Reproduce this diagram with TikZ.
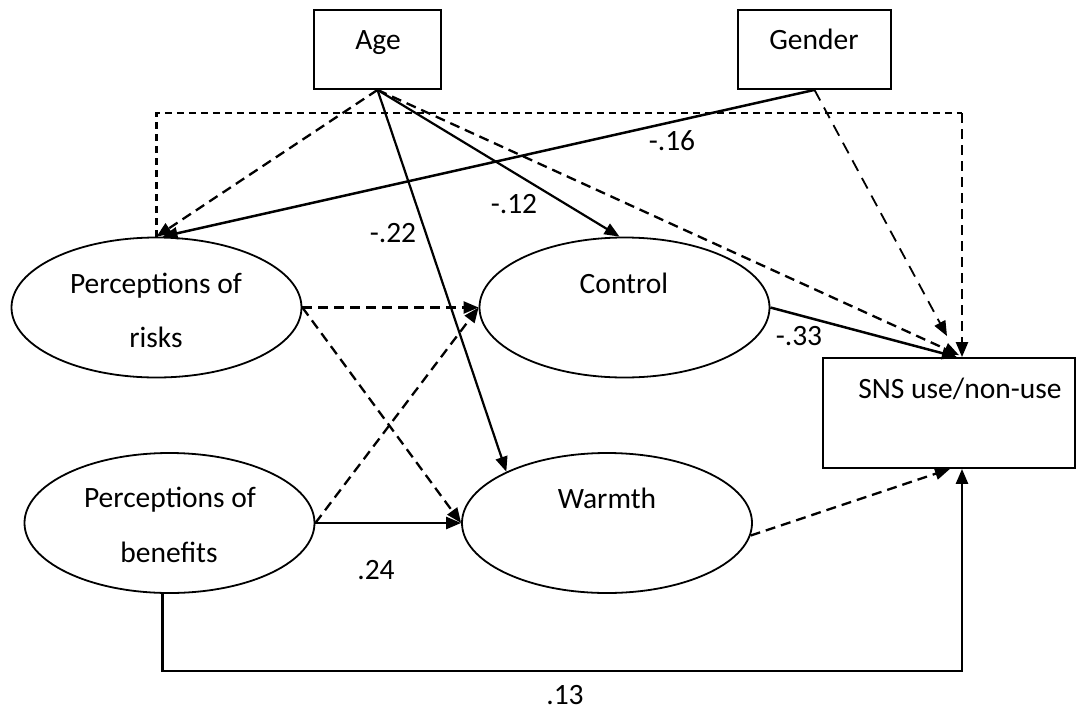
\documentclass[tikz,border=0pt]{standalone}
\usepackage{fontspec}
\setmainfont{Carlito}
\usetikzlibrary{shapes.geometric,arrows.meta}
\begin{document}
\begin{tikzpicture}[x=1pt,y=-1pt,
  every node/.style={font=\fontsize{29.5}{35}\selectfont},
  box/.style={draw,line width=1.8pt,minimum width=#1,minimum height=79pt,inner sep=0pt},
  construct/.style={draw,ellipse,line width=1.8pt,minimum width=290pt,minimum height=140pt,inner sep=0pt},
  txt/.style={anchor=base,inner sep=0pt},
  tip/.style={-{Triangle[length=15pt,width=12pt]}},
  path/.style={tip,line width=2.5pt},
  nspath/.style={tip,line width=2.3pt,dash pattern=on 10pt off 6pt},
  frame/.style={line width=2.3pt,dash pattern=on 7pt off 5pt}
]
\useasboundingbox (0,0) rectangle (1085,710);

% observed variables
\node[box=127pt] (age) at (377.5,49.5) {};
\node[box=153pt] (gender) at (814.5,49.5) {};
\node[draw,line width=1.8pt,minimum width=252pt,minimum height=110pt,inner sep=0pt] (sns) at (949,413) {};

% latent constructs
\node[construct] (risks) at (156.5,307.5) {};
\node[construct] (control) at (624.5,307.5) {};
\node[construct] (benefits) at (169.5,523) {};
\node[construct] (warmth) at (607,523) {};

% texts
\node[txt] (tage) at (378,49) {Age};
\node[txt] (tgender) at (814,49) {Gender};
\node[txt] (tsns) at (960,398) {SNS use/non-use};
\node[txt] (trisks1) at (156,293) {Perceptions of};
\node[txt] (trisks2) at (156,347) {risks};
\node[txt] (tcontrol) at (624,293) {Control};
\node[txt] (tbenefits1) at (170,507) {Perceptions of};
\node[txt] (tbenefits2) at (169,562) {benefits};
\node[txt] (twarmth) at (607,508) {Warmth};

% coefficients
\node[txt] (c16) at (672,150) {-.16};
\node[txt] (c12) at (514,213) {-.12};
\node[txt] (c22) at (393,242) {-.22};
\node[txt] (c33) at (799,345) {-.33};
\node[txt] (c24) at (376,579) {.24};
\node[txt] (c13) at (565,704) {.13};

% helper points for the routed paths
\coordinate (frameL) at (156.5,113);
\coordinate (frameR) at (962,113);
\coordinate (bottomR) at (962,671);

% risks -> SNS (dashed frame)
\draw[frame] (risks.north) -- (frameL) -- (frameR);
\draw[nspath] (frameR) -- (frameR |- sns.north);

% age paths
\draw[nspath] (age.south) -- (risks.north);
\draw[path,line width=2.2pt] (age.south) -- ([xshift=-5pt]control.north);
\draw[path,line width=2.2pt] (age.south) -- (warmth.153.7);
\draw[nspath] (age.south) -- ([xshift=10pt,yshift=2pt]sns.north);

% gender paths
\draw[path] (gender.south) -- ([xshift=6pt]risks.north);
\draw[nspath,line width=1.8pt,dash pattern=on 12pt off 8pt] (gender.south) -- ([shift={(-2pt,21pt)}]sns.north);

% construct-to-construct paths
\draw[nspath] (risks.east) -- (control.west);
\draw[nspath] (risks.east) -- (warmth.west);
\draw[nspath] (benefits.east) -- (control.west);
\draw[path] (benefits.east) -- (warmth.west);

% construct-to-outcome paths
\draw[path] (control.east) -- ([xshift=8pt]sns.north);
\draw[nspath] (warmth.-5.5) -- ([xshift=1pt]sns.south);
\draw[path] ([xshift=-7pt]benefits.south) |- (bottomR) -- (bottomR |- sns.south);
\end{tikzpicture}
\end{document}
